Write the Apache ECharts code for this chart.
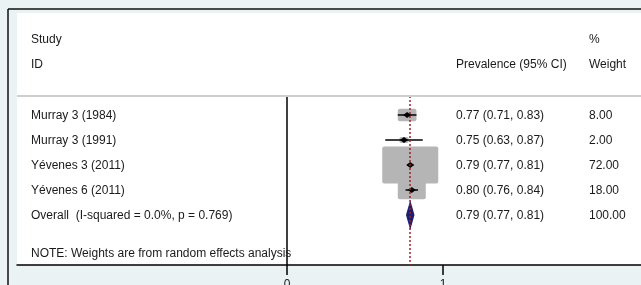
<!DOCTYPE html>
<html>
<head>
<meta charset="utf-8">
<script src="https://cdn.jsdelivr.net/npm/echarts@6/dist/echarts.min.js"></script>
<style>
html, body { margin: 0; padding: 0; background: #eaf2f3; }
#chart { width: 641px; height: 285px; }
</style>
</head>
<body>
<div id="chart"></div>
<script>
// study rows
var studies = ['Murray 3 (1984)', 'Murray 3 (1991)', 'Yévenes 3 (2011)', 'Yévenes 6 (2011)']
var est = [0.77, 0.75, 0.79, 0.80]
var lower = [0.71, 0.63, 0.77, 0.76]
var upper = [0.83, 0.87, 0.81, 0.84]
var weights = [8.00, 2.00, 72.00, 18.00]

// pooled estimate
var overallLabel = 'Overall  (I-squared = 0.0%, p = 0.769)'
var overallEst = 0.79
var overallLower = 0.77
var overallUpper = 0.81
var overallWeight = 100.00

var xTicks = [0, 1]

var FONT = '12px "Liberation Sans", Arial, sans-serif'
var TXT = '#1a1a1a'
var COL_STUDY = 31
var COL_CI = 456
var COL_W = 589

function ciText (e, l, u) {
  return e.toFixed(2) + ' (' + l.toFixed(2) + ', ' + u.toFixed(2) + ')'
}

var maxW = Math.max.apply(null, weights)
var rowData = []
for (var i = 0; i < studies.length; i++) {
  rowData.push([est[i], i + 1, lower[i], upper[i], weights[i], i])
}

var chart = echarts.init(document.getElementById('chart'))

var option = {
  animation: false,
  backgroundColor: '#eaf2f3',
  grid: { left: 17, right: 0, top: 96, bottom: 20, outerBoundsMode: 'none', containLabel: false },
  xAxis: {
    type: 'value',
    min: -270 / 156,
    max: 354 / 156,
    axisLine: { onZero: false, lineStyle: { color: '#000', width: 1.5 } },
    axisTick: { customValues: xTicks, length: 10, lineStyle: { color: '#000', width: 1.5 } },
    axisLabel: { customValues: xTicks, margin: 14, color: TXT, fontSize: 12, fontFamily: 'Liberation Sans' },
    splitLine: { show: false }
  },
  yAxis: {
    type: 'value',
    inverse: true,
    min: 0.24,
    max: 7,
    axisLine: { show: true, onZero: true, lineStyle: { color: '#000', width: 1.5 } },
    axisTick: { show: false },
    axisLabel: { show: false },
    splitLine: { show: false }
  },
  graphic: [
    { type: 'rect', z: -10, shape: { x: 17, y: 13, width: 624, height: 252 }, style: { fill: '#fff' } },
    { type: 'line', z: 50, shape: { x1: 8, y1: 9, x2: 641, y2: 9 }, style: { stroke: '#111', lineWidth: 1.5 } },
    { type: 'line', z: 50, shape: { x1: 8, y1: 9, x2: 8, y2: 285 }, style: { stroke: '#111', lineWidth: 1.5 } },
    { type: 'line', z: 50, shape: { x1: 17, y1: 96, x2: 641, y2: 96 }, style: { stroke: '#cfcfcf', lineWidth: 2 } },
    { type: 'text', z: 50, style: { text: 'Study', x: COL_STUDY, y: 40, font: FONT, fill: TXT, verticalAlign: 'middle' } },
    { type: 'text', z: 50, style: { text: 'ID', x: COL_STUDY, y: 65, font: FONT, fill: TXT, verticalAlign: 'middle' } },
    { type: 'text', z: 50, style: { text: 'Prevalence (95% CI)', x: COL_CI, y: 65, font: FONT, fill: TXT, verticalAlign: 'middle' } },
    { type: 'text', z: 50, style: { text: '%', x: COL_W, y: 40, font: FONT, fill: TXT, verticalAlign: 'middle' } },
    { type: 'text', z: 50, style: { text: 'Weight', x: COL_W, y: 65, font: FONT, fill: TXT, verticalAlign: 'middle' } },
    { type: 'text', z: 50, style: { text: 'NOTE: Weights are from random effects analysis', x: COL_STUDY, y: 254, font: FONT, fill: TXT, verticalAlign: 'middle' } }
  ],
  series: [
    {
      type: 'custom',
      data: rowData,
      z: 2,
      renderItem: function (params, api) {
        var row = api.value(1)
        var c = api.coord([api.value(0), row])
        var lo = api.coord([api.value(2), row])
        var hi = api.coord([api.value(3), row])
        var w = api.value(4)
        var k = Math.sqrt(w / maxW)
        var bw = 56 * k
        var bh = 37 * k
        var idx = api.value(5)
        return {
          type: 'group',
          children: [
            { type: 'rect', z2: 1, shape: { x: c[0] - bw / 2, y: c[1] - bh / 2, width: bw, height: bh, r: 2 }, style: { fill: '#b5b5b5' } },
            { type: 'line', z2: 2, shape: { x1: lo[0], y1: c[1], x2: hi[0], y2: c[1] }, style: { stroke: '#000', lineWidth: 1.5 } },
            { type: 'polygon', z2: 3, shape: { points: [[c[0] - 4, c[1]], [c[0], c[1] - 3], [c[0] + 4, c[1]], [c[0], c[1] + 3]] }, style: { fill: '#000' } },
            { type: 'text', style: { text: studies[idx], x: COL_STUDY, y: c[1] + 1, font: FONT, fill: TXT, verticalAlign: 'middle' } },
            { type: 'text', style: { text: ciText(est[idx], lower[idx], upper[idx]), x: COL_CI, y: c[1] + 1, font: FONT, fill: TXT, verticalAlign: 'middle' } },
            { type: 'text', style: { text: weights[idx].toFixed(2), x: COL_W, y: c[1] + 1, font: FONT, fill: TXT, verticalAlign: 'middle' } }
          ]
        }
      }
    },
    {
      type: 'custom',
      data: [[overallEst, studies.length + 1, overallLower, overallUpper]],
      z: 3,
      renderItem: function (params, api) {
        var row = api.value(1)
        var c = api.coord([api.value(0), row])
        var lo = api.coord([api.value(2), row])
        var hi = api.coord([api.value(3), row])
        return {
          type: 'group',
          children: [
            { type: 'polygon', shape: { points: [[lo[0], c[1]], [c[0], c[1] - 11], [hi[0], c[1]], [c[0], c[1] + 11]] }, style: { fill: '#1f1f70', stroke: '#1f1f70', lineWidth: 2.2 } },
            { type: 'text', style: { text: overallLabel, x: COL_STUDY, y: c[1] + 1, font: FONT, fill: TXT, verticalAlign: 'middle' } },
            { type: 'text', style: { text: ciText(overallEst, overallLower, overallUpper), x: COL_CI, y: c[1] + 1, font: FONT, fill: TXT, verticalAlign: 'middle' } },
            { type: 'text', style: { text: overallWeight.toFixed(2), x: COL_W, y: c[1] + 1, font: FONT, fill: TXT, verticalAlign: 'middle' } }
          ]
        }
      },
      markLine: {
        silent: true,
        symbol: 'none',
        z: 10,
        label: { show: false },
        lineStyle: { color: '#a31f2a', type: [2, 2], width: 1.5 },
        data: [{ xAxis: overallEst }]
      }
    }
  ]
}

chart.setOption(option)
</script>
</body>
</html>
